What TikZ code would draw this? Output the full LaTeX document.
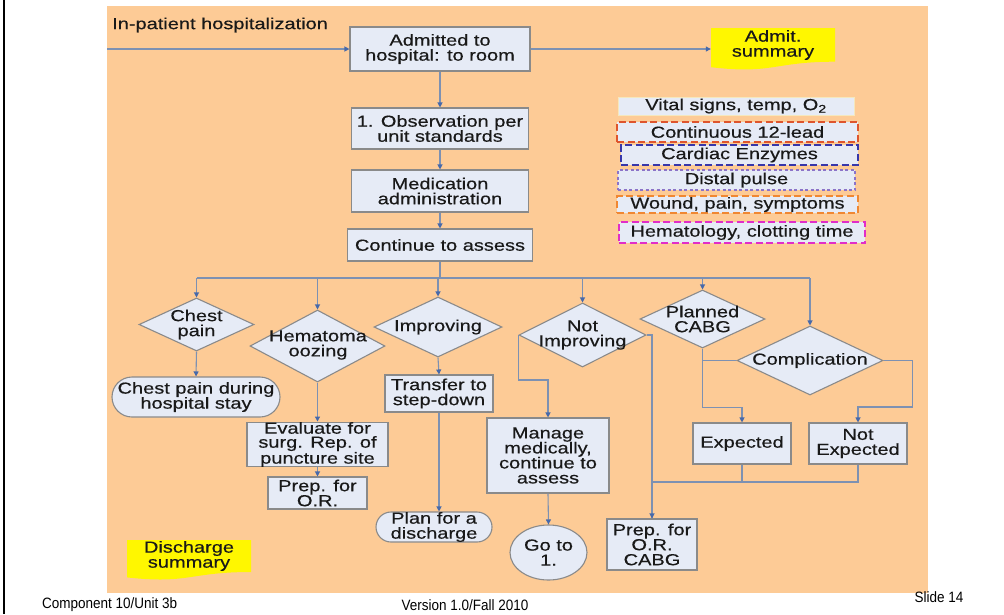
\documentclass[tikz,border=0pt]{standalone}
\usepackage{fontspec}
\setmainfont{Liberation Sans}[FakeStretch=1.25,FakeBold=0.4]
\newfontfamily\footfont{Liberation Sans}[FakeStretch=0.9]
\usetikzlibrary{shapes.geometric,arrows.meta}

\definecolor{slidebg}{RGB}{253,203,150}
\definecolor{boxfill}{RGB}{230,235,246}
\definecolor{boxline}{RGB}{138,138,138}
\definecolor{linec}{RGB}{125,145,178}
\definecolor{arrowc}{RGB}{70,105,170}
\definecolor{noteyel}{RGB}{255,247,0}
\definecolor{txt}{RGB}{25,25,25}
\definecolor{dashred}{RGB}{222,85,45}
\definecolor{dashblue}{RGB}{55,55,170}
\definecolor{dashpurple}{RGB}{140,115,200}
\definecolor{dashorange}{RGB}{240,135,50}
\definecolor{dashmagenta}{RGB}{225,45,200}
\definecolor{vitalline}{RGB}{245,232,190}

\tikzset{
  base/.style={text=txt, font=\fontsize{16}{15}\selectfont, align=center, inner sep=0pt},
  box/.style={base, rectangle, draw=boxline, fill=boxfill, line width=1.1pt},
  dia/.style={diamond, draw=boxline, fill=boxfill, line width=1.1pt, inner sep=0pt},
  oval/.style={base, ellipse, draw=boxline, fill=boxfill, line width=1.1pt},
  conn/.style={draw=linec, line width=1.1pt},
  arr/.style={conn, -{Triangle[length=5pt,width=5pt,color=arrowc]}},
  leg/.style={base, rectangle, fill=boxfill, line width=2pt},
  legdash/.style={leg, dash pattern=on 7pt off 3.5pt},
  foot/.style={text=black, font=\footfont\fontsize{15}{15}\selectfont, inner sep=0pt},
}

\begin{document}
\begin{tikzpicture}[x=1pt, y=-1pt]
\path[use as bounding box] (0,0) rectangle (1004,614);
\fill[white] (0,0) rectangle (1004,614);
% slide frame and coloured panel
\draw[line width=1.5pt, black] (4,0) -- (4,614);
\fill[slidebg] (107,6) rectangle (928,593);

% title of the pathway
\node[base, anchor=west] (inpat) at (112,25) {In-patient hospitalization};
\coordinate (instart) at (107,49);

% main column
\node[box, minimum width=180, minimum height=44] (adm) at (440,49) {Admitted to\\hospital: to room};
\node[box, minimum width=177, minimum height=41] (obs) at (440,128.5) {1. Observation per\\unit standards};
\node[box, minimum width=177, minimum height=42] (med) at (440,191) {Medication\\administration};
\node[box, minimum width=185, minimum height=32] (cont) at (440,245) {Continue to assess};
\coordinate (bus) at (440,278);

% admission summary note
\fill[noteyel] (711,28) -- (835,28) -- (835,61.7)
  .. controls (773,61.7) and (773,74.5) .. (711,67.2) -- cycle;
\node[base, minimum width=124, minimum height=34] (admsum) at (773,45) {Admit.\\summary};

% discharge summary note
\fill[noteyel] (127,540) -- (251,540) -- (251,572)
  .. controls (189,572) and (189,584.3) .. (127,577.4) -- cycle;
\node[base, minimum width=124, minimum height=32] (dissum) at (189,556) {Discharge\\summary};

% decision diamonds
\node[dia, minimum width=115, minimum height=53] (cp) at (196.5,324.5) {};
\node[base] (cp-t) at (cp) {Chest\\pain};
\node[dia, minimum width=135, minimum height=72] (hem) at (317.5,346) {};
\node[base] (hem-t) at (318,345) {Hematoma\\oozing};
\node[dia, minimum width=128, minimum height=60] (imp) at (438,327) {};
\node[base] (imp-t) at (imp) {Improving};
\node[dia, minimum width=127, minimum height=64] (ni) at (582.5,335) {};
\node[base] (ni-t) at (ni) {Not\\Improving};
\node[dia, minimum width=125, minimum height=58] (pc) at (702.5,319) {};
\node[base] (pc-t) at (pc) {Planned\\CABG};
\node[dia, minimum width=146, minimum height=69] (comp) at (810,360.5) {};
\node[base] (comp-t) at (comp) {Complication};

% outcomes
\node[box, rounded corners=20pt, minimum width=168, minimum height=40] (stay) at (196,397) {Chest pain during\\hospital stay};
\node[box, minimum width=141, minimum height=43, font=\fontsize{16}{14}\selectfont] (eval) at (317.5,444.5) {Evaluate for\\surg. Rep. of\\puncture site};
\node[box, minimum width=99, minimum height=32] (prep) at (317.5,493) {Prep. for\\O.R.};
\node[box, minimum width=108, minimum height=37] (trans) at (439,393.5) {Transfer to\\step-down};
\node[box, rounded corners=15pt, minimum width=116, minimum height=30] (plan) at (434,527) {Plan for a\\discharge};
\node[box, minimum width=122, minimum height=75] (manage) at (548,455.5) {Manage\\medically,\\continue to\\assess};
\node[oval, minimum width=77, minimum height=55] (goto) at (548.5,552.5) {Go to\\1.};
\node[box, minimum width=90, minimum height=51] (pcabg) at (652,544.5) {Prep. for\\O.R.\\CABG};
\node[box, minimum width=98, minimum height=41] (exp) at (742,443.5) {Expected};
\node[box, minimum width=98, minimum height=41] (nexp) at (858,443.5) {Not\\Expected};

% monitoring legend
\node[leg, draw=vitalline, line width=1pt, minimum width=236, minimum height=18] (vital) at (736,106) {Vital signs, temp, O\textsubscript{2}};
\node[legdash, draw=dashred, minimum width=241, minimum height=20] (lead) at (737.5,132) {Continuous 12-lead};
\node[legdash, draw=dashblue, minimum width=237, minimum height=20] (enz) at (739.5,155) {Cardiac Enzymes};
\node[leg, draw=dashpurple, line width=1.4pt, dash pattern=on 3pt off 2.5pt, minimum width=237, minimum height=20] (pulse) at (736.5,180) {Distal pulse};
\node[legdash, draw=dashorange, minimum width=241, minimum height=17] (wound) at (737.5,204.5) {Wound, pain, symptoms};
\node[legdash, draw=dashmagenta, minimum width=246, minimum height=21] (hemat) at (742,232.5) {Hematology, clotting time};

% connectors of the main column
\draw[arr] (instart) -- (adm.west);
\draw[arr] (adm.east) -- (adm.east -| admsum.west);
\draw[arr] (adm.south) -- (obs.north);
\draw[arr] (obs.south) -- (med.north);
\draw[arr] (med.south) -- (cont.north);
\draw[conn] (cont.south) -- (bus);
\draw[conn] (cp.north |- bus) -- (comp.north |- bus);
\foreach \n in {cp,hem,imp,ni,pc,comp}
  \draw[arr] (\n.north |- bus) -- (\n.north);

% branch connectors
\draw[arr] (cp.south) -- (stay.north);
\draw[arr] (hem.south) -- (eval.north);
\draw[arr] (eval.south) -- (prep.north);
\draw[arr] (imp.south) -- (trans.north);
\draw[arr] (trans.south) -- (trans.south |- plan.north);
\draw[arr] (ni.west) -- ++(0,45) -| (manage.north);
\draw[arr] (manage.south) -- (goto.north);
\coordinate (jn) at (742,482);
\draw[conn] (nexp.south) |- (jn);
\draw[conn] (exp.south) -- (jn) -| (pcabg.north);
\draw[arr] (ni.east) -| (pcabg.north);
\draw[conn] (comp.west) -- (comp.west -| pc.south);
\draw[arr] (pc.south) -- ++(0,59) -| (exp.north);
\draw[arr] (comp.east) -- ++(29,0) -- ++(0,46.5) -| (nexp.north);

% footer
\node[foot, anchor=west] (unit) at (42,605) {Component 10/Unit 3b};
\node[foot] (ver) at (465,605) {Version 1.0/Fall 2010};
\node[foot] (slide) at (939,597) {Slide 14};
\end{tikzpicture}
\end{document}
